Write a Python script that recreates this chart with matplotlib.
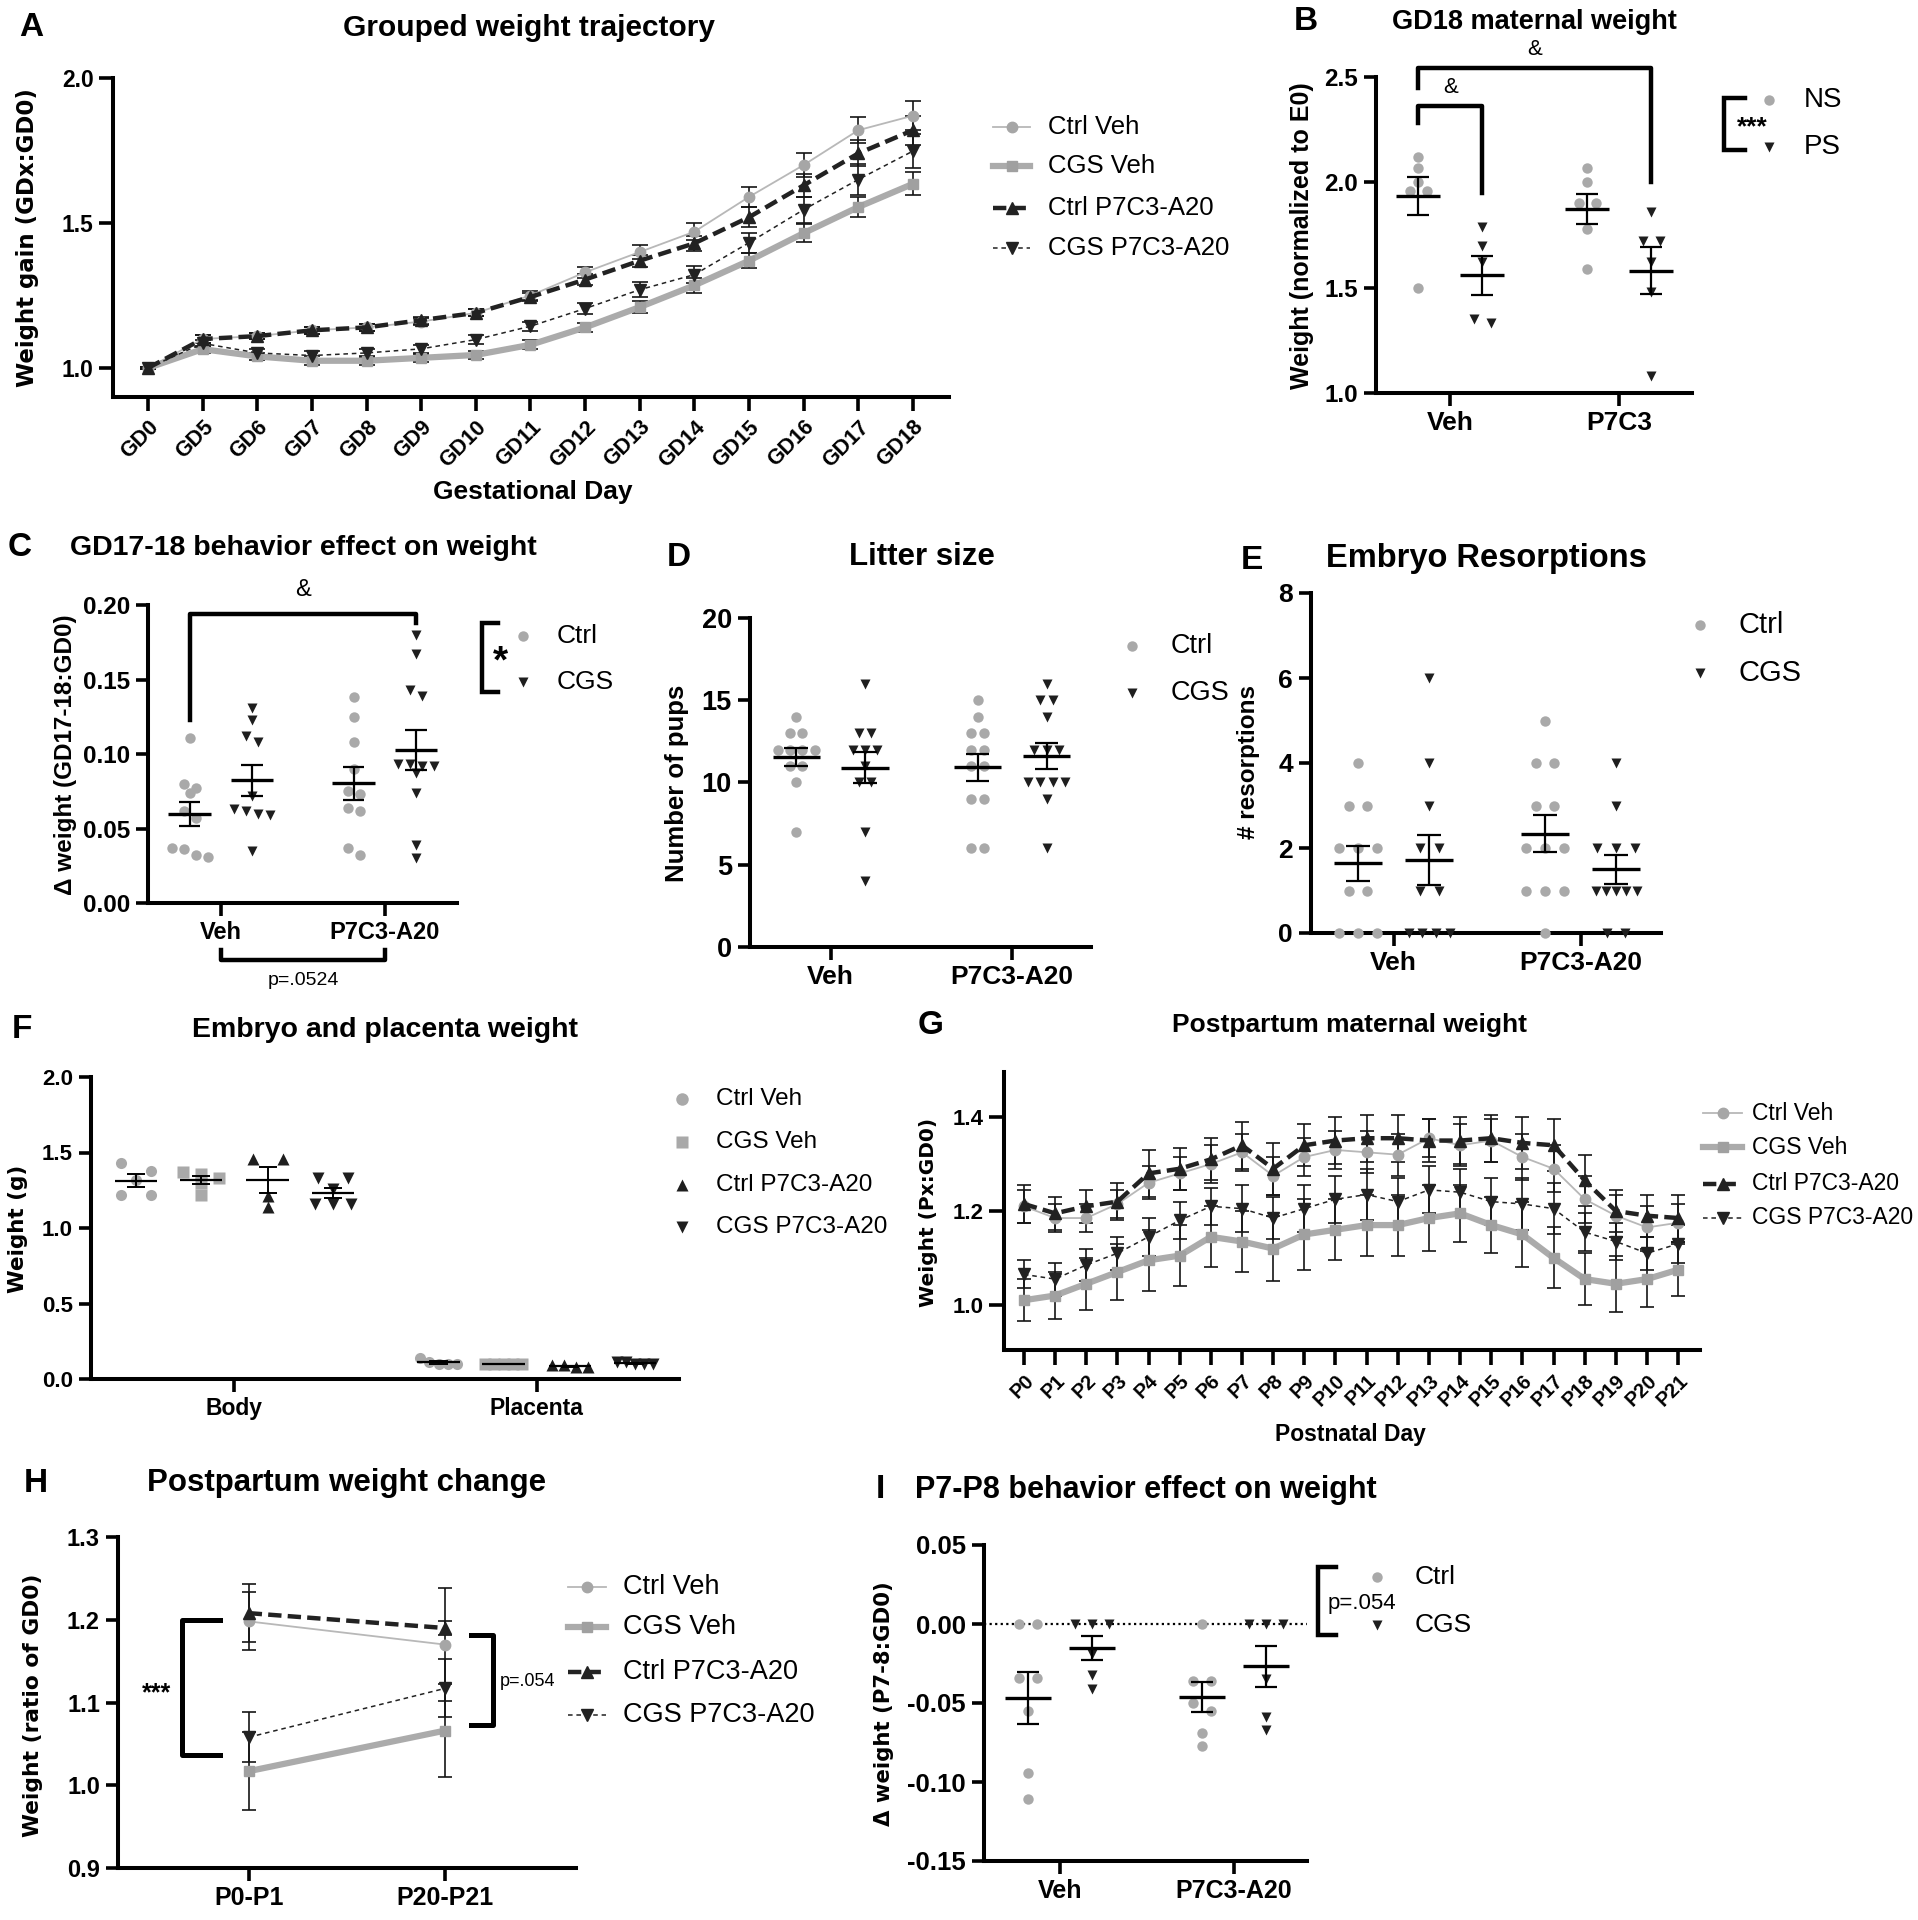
import numpy as np
import matplotlib
matplotlib.use("Agg")
import matplotlib.pyplot as plt
from matplotlib.lines import Line2D
from matplotlib.ticker import FormatStrFormatter

W, H = 1918, 1920
plt.rcParams['font.family'] = ['Liberation Sans', 'DejaVu Sans']
plt.rcParams['font.weight'] = 'bold'

GRAY = '#a9a9a9'
DARK = '#1e1e1e'

# ---------------- data ----------------
groups = ['Ctrl Veh', 'CGS Veh', 'Ctrl P7C3-A20', 'CGS P7C3-A20']

# A: grouped weight trajectory (GDx:GD0)
gd_days = ['GD0', 'GD5', 'GD6', 'GD7', 'GD8', 'GD9', 'GD10', 'GD11', 'GD12',
           'GD13', 'GD14', 'GD15', 'GD16', 'GD17', 'GD18']
a_ctrl_veh = [1.0, 1.10, 1.11, 1.13, 1.14, 1.16, 1.19, 1.25, 1.33, 1.40, 1.47, 1.59, 1.70, 1.82, 1.87]
a_cgs_veh = [1.0, 1.065, 1.04, 1.025, 1.025, 1.035, 1.045, 1.08, 1.14, 1.21, 1.285, 1.37, 1.465, 1.555, 1.635]
a_ctrl_p7 = [1.0, 1.10, 1.11, 1.13, 1.14, 1.165, 1.19, 1.245, 1.305, 1.37, 1.43, 1.52, 1.63, 1.74, 1.82]
a_cgs_p7 = [1.0, 1.085, 1.052, 1.043, 1.052, 1.066, 1.098, 1.144, 1.205, 1.27, 1.322, 1.432, 1.546, 1.65, 1.748]
a_sem_ctrl_veh = [0.005, 0.015, 0.01, 0.012, 0.012, 0.012, 0.012, 0.015, 0.02, 0.025, 0.03, 0.035, 0.04, 0.045, 0.05]
a_sem_cgs_veh = [0.005, 0.012, 0.012, 0.015, 0.015, 0.015, 0.015, 0.015, 0.015, 0.02, 0.025, 0.025, 0.03, 0.035, 0.04]
a_sem_ctrl_p7 = [0.005, 0.015, 0.01, 0.012, 0.012, 0.012, 0.012, 0.015, 0.02, 0.02, 0.025, 0.035, 0.04, 0.045, 0.05]
a_sem_cgs_p7 = [0.005, 0.012, 0.012, 0.015, 0.015, 0.015, 0.015, 0.015, 0.02, 0.025, 0.03, 0.035, 0.045, 0.055, 0.06]

# B: GD18 maternal weight
b_cats = ['Veh', 'P7C3']
b_ns_veh = [2.12, 2.07, 2.00, 1.96, 1.96, 1.50]
b_ps_veh = [1.79, 1.70, 1.62, 1.35, 1.33]
b_ns_p7 = [2.07, 2.00, 1.90, 1.90, 1.78, 1.59]
b_ps_p7 = [1.86, 1.72, 1.72, 1.62, 1.48, 1.08]

# C: GD17-18 behaviour effect
cat2 = ['Veh', 'P7C3-A20']
c_ctrl_veh = [0.111, 0.080, 0.077, 0.074, 0.062, 0.057, 0.037, 0.036, 0.032, 0.031]
c_cgs_veh = [0.131, 0.123, 0.112, 0.108, 0.072, 0.063, 0.062, 0.060, 0.059, 0.035]
c_ctrl_p7 = [0.138, 0.125, 0.108, 0.090, 0.075, 0.073, 0.064, 0.062, 0.037, 0.032]
c_cgs_p7 = [0.180, 0.167, 0.143, 0.139, 0.093, 0.093, 0.092, 0.092, 0.087, 0.074, 0.039, 0.030]

# D: litter size
d_ctrl_veh = [14, 13, 13, 12, 12, 12, 12, 11, 11, 10, 7]
d_cgs_veh = [16, 13, 13, 12, 12, 12, 11, 10, 10, 7, 4]
d_ctrl_p7 = [15, 14, 13, 13, 12, 12, 11, 11, 9, 9, 6, 6]
d_cgs_p7 = [16, 15, 15, 14, 12, 12, 12, 10, 10, 10, 10, 9, 6]

# E: embryo resorptions
e_ctrl_veh = [4, 3, 3, 2, 2, 2, 1, 1, 0, 0, 0]
e_cgs_veh = [6, 4, 3, 2, 2, 1, 1, 0, 0, 0, 0]
e_ctrl_p7 = [5, 4, 4, 3, 3, 2, 2, 2, 1, 1, 1, 0]
e_cgs_p7 = [4, 3, 2, 2, 2, 1, 1, 1, 1, 1, 0, 0]

# F: embryo and placenta weight (g)
f_cats = ['Body', 'Placenta']
f_body = {
    'Ctrl Veh': [1.43, 1.38, 1.32, 1.22, 1.22],
    'CGS Veh': [1.37, 1.36, 1.33, 1.30, 1.22],
    'Ctrl P7C3-A20': [1.46, 1.46, 1.21, 1.14],
    'CGS P7C3-A20': [1.33, 1.33, 1.26, 1.16, 1.16, 1.16],
}
f_placenta = {
    'Ctrl Veh': [0.14, 0.11, 0.10, 0.10, 0.10],
    'CGS Veh': [0.10, 0.10, 0.10, 0.10, 0.10],
    'Ctrl P7C3-A20': [0.09, 0.09, 0.08, 0.08],
    'CGS P7C3-A20': [0.11, 0.11, 0.10, 0.10, 0.10],
}

# G: postpartum maternal weight (Px:GD0)
p_days = ['P%d' % i for i in range(22)]
g_ctrl_veh = [1.21, 1.185, 1.185, 1.215, 1.26, 1.28, 1.30, 1.325, 1.275, 1.315, 1.33,
              1.325, 1.32, 1.355, 1.34, 1.35, 1.315, 1.29, 1.225, 1.19, 1.165, 1.175]
g_cgs_veh = [1.01, 1.02, 1.045, 1.07, 1.095, 1.105, 1.145, 1.135, 1.12, 1.15, 1.16,
             1.17, 1.17, 1.185, 1.195, 1.17, 1.15, 1.10, 1.055, 1.045, 1.055, 1.075]
g_ctrl_p7 = [1.215, 1.195, 1.21, 1.22, 1.28, 1.29, 1.31, 1.34, 1.29, 1.34, 1.35,
             1.355, 1.355, 1.35, 1.35, 1.355, 1.345, 1.34, 1.265, 1.20, 1.19, 1.185]
g_cgs_p7 = [1.065, 1.055, 1.085, 1.11, 1.145, 1.18, 1.21, 1.205, 1.185, 1.205, 1.225,
            1.235, 1.22, 1.245, 1.24, 1.22, 1.215, 1.205, 1.155, 1.135, 1.11, 1.13]
g_sem_ctrl_veh = [0.035, 0.03, 0.03, 0.03, 0.035, 0.035, 0.04, 0.04, 0.04, 0.04, 0.04,
                  0.045, 0.045, 0.04, 0.045, 0.045, 0.05, 0.05, 0.05, 0.045, 0.045, 0.04]
g_sem_cgs_veh = [0.045, 0.05, 0.055, 0.06, 0.065, 0.065, 0.065, 0.065, 0.07, 0.075, 0.065,
                 0.065, 0.065, 0.07, 0.06, 0.06, 0.07, 0.065, 0.055, 0.06, 0.06, 0.055]
g_sem_ctrl_p7 = [0.04, 0.035, 0.035, 0.04, 0.05, 0.045, 0.045, 0.05, 0.055, 0.045, 0.05,
                 0.05, 0.05, 0.045, 0.05, 0.05, 0.055, 0.055, 0.055, 0.045, 0.045, 0.05]
g_sem_cgs_p7 = [0.03, 0.035, 0.035, 0.035, 0.04, 0.04, 0.04, 0.05, 0.045, 0.05, 0.05,
                0.055, 0.05, 0.05, 0.05, 0.05, 0.055, 0.055, 0.04, 0.04, 0.035, 0.04]

# H: postpartum weight change
h_periods = ['P0-P1', 'P20-P21']
h_ctrl_veh = [1.198, 1.170]
h_cgs_veh = [1.017, 1.066]
h_ctrl_p7 = [1.208, 1.190]
h_cgs_p7 = [1.058, 1.117]
h_sem_ctrl_veh = [0.035, 0.068]
h_sem_cgs_veh = [0.047, 0.056]
h_sem_ctrl_p7 = [0.035, 0.008]
h_sem_cgs_p7 = [0.030, 0.035]

# I: P7-P8 behaviour effect
i_ctrl_veh = [0.0, 0.0, -0.034, -0.034, -0.055, -0.094, -0.111]
i_cgs_veh = [0.0, 0.0, 0.0, -0.019, -0.032, -0.041]
i_ctrl_p7 = [0.0, -0.036, -0.036, -0.050, -0.055, -0.069, -0.077]
i_cgs_p7 = [0.0, 0.0, 0.0, -0.035, -0.059, -0.067]

# ---------------- styling ----------------
line_style = {
    'Ctrl Veh': dict(color='#b8b8b8', lw=1.3, ls='-', marker='o', c='#a6a6a6', ms=7.5),
    'CGS Veh': dict(color='#ababab', lw=4.5, ls='-', marker='s', c='#a0a0a0', ms=7.5),
    'Ctrl P7C3-A20': dict(color='#222222', lw=3.2, ls=(0, (3, 1.4)), marker='^', c='#222222', ms=8),
    'CGS P7C3-A20': dict(color='#222222', lw=1.1, ls=(0, (3, 2.5)), marker='v', c='#222222', ms=8),
}
dot_style = {'Ctrl Veh': ('o', GRAY), 'CGS Veh': ('s', GRAY),
             'Ctrl P7C3-A20': ('^', DARK), 'CGS P7C3-A20': ('v', DARK)}

fig = plt.figure(figsize=(W / 100, H / 100), dpi=100)


def fx(x):
    return x / W


def fy(y):
    return 1 - y / H


def panel(x0, y0, x1, y1, ysize, xsize, tlen=9):
    ax = fig.add_axes([fx(x0), fy(y1), (x1 - x0) / W, (y1 - y0) / H])
    ax.spines[['top', 'right']].set_visible(False)
    for s in ('left', 'bottom'):
        ax.spines[s].set_linewidth(2.9)
    ax.tick_params(direction='out', length=tlen, width=2.6, pad=4)
    ax.tick_params(axis='y', labelsize=ysize)
    ax.tick_params(axis='x', labelsize=xsize)
    ax.patch.set_alpha(0)
    return ax


def label(x, y, s, size, **kw):
    fig.text(fx(x), fy(y), s, fontsize=size, ha=kw.pop('ha', 'center'),
             va=kw.pop('va', 'center'), **kw)


def swarm(vals, center, step, thr, maxw):
    v = np.asarray(vals, float)
    order = np.argsort(-v, kind='stable')
    rows = []
    for i in order:
        if rows and v[rows[-1][0]] - v[i] <= thr:
            rows[-1].append(i)
        else:
            rows.append([i])
    xs = np.zeros(len(v))
    for r in rows:
        n = len(r)
        st = step if (n - 1) * step <= maxw else maxw / (n - 1)
        for k, i in enumerate(r):
            xs[i] = center + (k - (n - 1) / 2) * st
    return xs, v


def dots(ax, vals, center, marker, color, step, thr, maxw=0.22, ms=7.5,
         mhw=0.13, chw=0.065, mlw=2.4, elw=1.6):
    xs, ys = swarm(vals, center, step, thr, maxw)
    ax.plot(xs, ys, ls='none', marker=marker, ms=ms, color=color, mec='none',
            clip_on=False, zorder=3)
    m = ys.mean()
    se = ys.std(ddof=1) / np.sqrt(len(ys))
    ax.hlines(m, center - mhw, center + mhw, color='black', lw=mlw, zorder=4)
    ax.vlines(center, m - se, m + se, color='black', lw=elw, zorder=4)
    ax.hlines([m - se, m + se], center - chw, center + chw, color='black', lw=elw, zorder=4)


def traj(ax, series, sems, capsize=5):
    for g in groups:
        st = line_style[g]
        y = series[g]
        ax.errorbar(np.arange(len(y)), y, yerr=sems[g], color=st['color'], lw=st['lw'],
                    ls=st['ls'], marker=st['marker'], ms=st['ms'], mfc=st['c'], mec=st['c'],
                    ecolor='#151515', elinewidth=1.2, capsize=capsize, capthick=1.2,
                    clip_on=False, zorder=3)


def line_legend(x0, x1, xt, ys, fs):
    for g, y in zip(groups, ys):
        st = line_style[g]
        fig.add_artist(Line2D([fx(x0), fx(x1)], [fy(y)] * 2, transform=fig.transFigure,
                              color=st['color'], lw=st['lw'], ls=st['ls']))
        fig.add_artist(Line2D([fx((x0 + x1) / 2)], [fy(y)], transform=fig.transFigure,
                              ls='none', marker=st['marker'], ms=st['ms'],
                              mfc=st['c'], mec=st['c']))
        label(xt, y, g, fs, ha='left', fontweight='normal')


def marker_legend(xm, xt, ys, names, markers, colors, fs, ms=7.5):
    for y, n, mk, c in zip(ys, names, markers, colors):
        fig.add_artist(Line2D([fx(xm)], [fy(y)], transform=fig.transFigure, ls='none',
                              marker=mk, ms=ms, mfc=c, mec='none'))
        label(xt, y, n, fs, ha='left', fontweight='normal')


def bracket_v(x, y0, y1, arm):
    # vertical bracket in figure pixels, arms pointing right
    fig.add_artist(Line2D([fx(x + arm), fx(x), fx(x), fx(x + arm)],
                          [fy(y0), fy(y0), fy(y1), fy(y1)], transform=fig.transFigure,
                          color='black', lw=3.2, solid_joinstyle='miter'))


# ---------------- A ----------------
ax = panel(113, 78, 949, 397, 16.5, 15.5, tlen=10)
traj(ax, {'Ctrl Veh': a_ctrl_veh, 'CGS Veh': a_cgs_veh,
          'Ctrl P7C3-A20': a_ctrl_p7, 'CGS P7C3-A20': a_cgs_p7},
     {'Ctrl Veh': a_sem_ctrl_veh, 'CGS Veh': a_sem_cgs_veh,
      'Ctrl P7C3-A20': a_sem_ctrl_p7, 'CGS P7C3-A20': a_sem_cgs_p7}, capsize=6)
ax.set_ylim(0.9, 2.0)
ax.set_xlim(-0.64, 14.66)
ax.set_yticks([1.0, 1.5, 2.0])
ax.yaxis.set_major_formatter(FormatStrFormatter('%.1f'))
ax.set_xticks(range(len(gd_days)))
ax.set_xticklabels(gd_days, rotation=45, ha='right', rotation_mode='anchor')
label(31, 28, 'A', 24)
label(529, 28, 'Grouped weight trajectory', 21.5)
label(28, 238, 'Weight gain (GDx:GD0)', 16.5, rotation=90, family='DejaVu Sans')
label(533, 492, 'Gestational Day', 19)
line_legend(993, 1030, 1048, [127, 166, 208, 248], 18.5)

# ---------------- B ----------------
ax = panel(1376, 77, 1692, 393, 17.5, 19)
for k, (ns, ps) in enumerate([(b_ns_veh, b_ps_veh), (b_ns_p7, b_ps_p7)]):
    dots(ax, ns, k - 0.19, 'o', GRAY, 0.1, 0.038)
    dots(ax, ps, k + 0.19, 'v', DARK, 0.1, 0.038)
ax.set_ylim(1.0, 2.5)
ax.set_xlim(-0.44, 1.43)
ax.set_yticks([1.0, 1.5, 2.0, 2.5])
ax.yaxis.set_major_formatter(FormatStrFormatter('%.1f'))
ax.set_xticks([0, 1])
ax.set_xticklabels(b_cats)
ax.plot([-0.19, -0.19, 1.19, 1.19], [2.448, 2.543, 2.543, 2.0], color='black', lw=3.2,
        clip_on=False)
ax.plot([-0.19, -0.19, 0.19, 0.19], [2.28, 2.362, 2.362, 1.95], color='black', lw=3.2,
        clip_on=False)
ax.text(0.5, 2.63, '&', ha='center', va='center', fontsize=16, fontweight='normal')
ax.text(0.0, 2.45, '&', ha='center', va='center', fontsize=16, fontweight='normal')
label(1306, 22, 'B', 24)
label(1534, 22, 'GD18 maternal weight', 19.5)
label(1302, 236, 'Weight (normalized to E0)', 18, rotation=90)
bracket_v(1724, 98, 150, 21)
label(1752, 127, '***', 19)
marker_legend(1769, 1804, [100, 147], ['NS', 'PS'], ['o', 'v'], [GRAY, DARK], 20)

# ---------------- C ----------------
ax = panel(148, 605, 457, 903, 17.5, 17)
for k, (ct, cg) in enumerate([(c_ctrl_veh, c_cgs_veh), (c_ctrl_p7, c_cgs_p7)]):
    dots(ax, ct, k - 0.19, 'o', GRAY, 0.075, 0.006)
    dots(ax, cg, k + 0.19, 'v', DARK, 0.075, 0.006)
ax.set_ylim(0, 0.2)
ax.set_xlim(-0.445, 1.44)
ax.set_yticks([0, 0.05, 0.10, 0.15, 0.20])
ax.yaxis.set_major_formatter(FormatStrFormatter('%.2f'))
ax.set_xticks([0, 1])
ax.set_xticklabels(cat2)
ax.plot([-0.19, -0.19, 1.19, 1.19], [0.123, 0.194, 0.194, 0.188], color='black', lw=3.2,
        clip_on=False)
ax.text(0.5, 0.21, '&', ha='center', va='center', fontsize=17, fontweight='normal')
ax.plot([0, 0, 1, 1], [-0.0315, -0.038, -0.038, -0.0315], color='black', lw=3.2,
        clip_on=False)
ax.text(0.5, -0.052, 'p=.0524', ha='center', va='center', fontsize=14, fontweight='normal')
label(20, 548, 'C', 24)
label(303, 548, 'GD17-18 behavior effect on weight', 20.5)
label(66, 755, 'Δ weight (GD17-18:GD0)', 17.5, rotation=90)
bracket_v(482, 623, 692, 16)
label(500, 662, '*', 28)
marker_legend(523, 557, [636, 682], ['Ctrl', 'CGS'], ['o', 'v'], [GRAY, DARK], 19)

# ---------------- D ----------------
ax = panel(750, 618, 1091, 947, 19.5, 19)
for k, (ct, cg) in enumerate([(d_ctrl_veh, d_cgs_veh), (d_ctrl_p7, d_cgs_p7)]):
    dots(ax, ct, k - 0.19, 'o', GRAY, 0.068, 0.5)
    dots(ax, cg, k + 0.19, 'v', DARK, 0.068, 0.5)
ax.set_ylim(0, 20)
ax.set_xlim(-0.444, 1.435)
ax.set_yticks([0, 5, 10, 15, 20])
ax.set_xticks([0, 1])
ax.set_xticklabels(cat2)
label(679, 557, 'D', 24)
label(922, 557, 'Litter size', 22.5)
label(677, 783, 'Number of pups', 18.5, rotation=90)
marker_legend(1132, 1171, [646, 693], ['Ctrl', 'CGS'], ['o', 'v'], [GRAY, DARK], 19.5)

# ---------------- E ----------------
ax = panel(1311, 593, 1661, 933, 19, 19)
for k, (ct, cg) in enumerate([(e_ctrl_veh, e_cgs_veh), (e_ctrl_p7, e_cgs_p7)]):
    dots(ax, ct, k - 0.19, 'o', GRAY, 0.1, 0.3)
    dots(ax, cg, k + 0.19, 'v', DARK, 0.1, 0.3)
ax.set_ylim(0, 8)
ax.set_xlim(-0.442, 1.43)
ax.set_yticks([0, 2, 4, 6, 8])
ax.set_xticks([0, 1])
ax.set_xticklabels(cat2)
label(1252, 560, 'E', 24)
label(1486, 559, 'Embryo Resorptions', 23.5)
label(1249, 762, '# resorptions', 17.5, rotation=90)
marker_legend(1700, 1739, [625, 673], ['Ctrl', 'CGS'], ['o', 'v'], [GRAY, DARK], 21)

# ---------------- F ----------------
ax = panel(91, 1077, 679, 1379, 16, 16.5)
f_offsets = [-0.325, -0.11, 0.11, 0.325]
for k, part in enumerate([f_body, f_placenta]):
    for g, off in zip(groups, f_offsets):
        mk, col = dot_style[g]
        dots(ax, part[g], k + off, mk, col, 0.1, 0.053, maxw=0.12, ms=8,
             mhw=0.07, chw=0.03, mlw=1.6, elw=1.4)
ax.set_ylim(0, 2.0)
ax.set_xlim(-0.474, 1.47)
ax.set_yticks([0, 0.5, 1.0, 1.5, 2.0])
ax.yaxis.set_major_formatter(FormatStrFormatter('%.1f'))
ax.set_xticks([0, 1])
ax.set_xticklabels(f_cats)
label(22, 1030, 'F', 24)
label(385, 1030, 'Embryo and placenta weight', 20.5)
label(18, 1229, 'Weight (g)', 15.5, rotation=90, family='DejaVu Sans')
marker_legend(682, 716, [1099, 1142, 1185, 1227], groups,
              [dot_style[g][0] for g in groups], [dot_style[g][1] for g in groups], 17.5, ms=9)

# ---------------- G ----------------
ax = panel(1004, 1072, 1700, 1350, 16, 14.5, tlen=11)
traj(ax, {'Ctrl Veh': g_ctrl_veh, 'CGS Veh': g_cgs_veh,
          'Ctrl P7C3-A20': g_ctrl_p7, 'CGS P7C3-A20': g_cgs_p7},
     {'Ctrl Veh': g_sem_ctrl_veh, 'CGS Veh': g_sem_cgs_veh,
      'Ctrl P7C3-A20': g_sem_ctrl_p7, 'CGS P7C3-A20': g_sem_cgs_p7}, capsize=5)
ax.set_ylim(0.904, 1.496)
ax.set_xlim(-0.64, 21.7)
ax.set_yticks([1.0, 1.2, 1.4])
ax.yaxis.set_major_formatter(FormatStrFormatter('%.1f'))
ax.set_xticks(range(len(p_days)))
ax.set_xticklabels(p_days, rotation=45, ha='right', rotation_mode='anchor')
label(931, 1025, 'G', 24)
label(1350, 1025, 'Postpartum maternal weight', 19)
label(929, 1212, 'Weight (Px:GD0)', 14.5, rotation=90, family='DejaVu Sans')
label(1350, 1435, 'Postnatal Day', 16.5)
line_legend(1703, 1742, 1752, [1113, 1147, 1184, 1218], 16.5)

# ---------------- H ----------------
ax = panel(118, 1537, 576, 1868, 17, 18)
traj(ax, {'Ctrl Veh': h_ctrl_veh, 'CGS Veh': h_cgs_veh,
          'Ctrl P7C3-A20': h_ctrl_p7, 'CGS P7C3-A20': h_cgs_p7},
     {'Ctrl Veh': h_sem_ctrl_veh, 'CGS Veh': h_sem_cgs_veh,
      'Ctrl P7C3-A20': h_sem_ctrl_p7, 'CGS P7C3-A20': h_sem_cgs_p7}, capsize=5)
ax.set_ylim(0.9, 1.3)
ax.set_xlim(-0.666, 1.668)
ax.set_yticks([0.9, 1.0, 1.1, 1.2, 1.3])
ax.yaxis.set_major_formatter(FormatStrFormatter('%.1f'))
ax.set_xticks([0, 1])
ax.set_xticklabels(h_periods)
ax.plot([-0.148, -0.342, -0.342, -0.148], [1.2, 1.2, 1.037, 1.037], color='black', lw=3.6,
        clip_on=False)
ax.plot([1.133, 1.245, 1.245, 1.133], [1.181, 1.181, 1.073, 1.073], color='black', lw=3.6,
        clip_on=False)
ax.text(-0.47, 1.111, '***', ha='center', va='center', fontsize=18)
ax.text(1.28, 1.125, 'p=.054', ha='left', va='center', fontsize=13, fontweight='normal')
label(36, 1483, 'H', 24)
label(347, 1483, 'Postpartum weight change', 22.5)
label(33, 1705, 'Weight (ratio of GD0)', 15.7, rotation=90, family='DejaVu Sans')
line_legend(568, 606, 623, [1587, 1627, 1672, 1715], 19.5)

# ---------------- I ----------------
ax = panel(984, 1545, 1307, 1861, 18.5, 18)
ax.axhline(0, color='black', lw=1.6, ls=(0, (1, 1.5)), zorder=1)
for k, (ct, cg) in enumerate([(i_ctrl_veh, i_cgs_veh), (i_ctrl_p7, i_cgs_p7)]):
    dots(ax, ct, k - 0.184, 'o', GRAY, 0.1, 0.005)
    dots(ax, cg, k + 0.184, 'v', DARK, 0.1, 0.005)
ax.set_ylim(-0.15, 0.05)
ax.set_xlim(-0.437, 1.42)
ax.set_yticks([-0.15, -0.10, -0.05, 0.0, 0.05])
ax.yaxis.set_major_formatter(FormatStrFormatter('%.2f'))
ax.set_xticks([0, 1])
ax.set_xticklabels(cat2)
label(880, 1490, 'I', 24)
label(1146, 1490, 'P7-P8 behavior effect on weight', 22)
label(884, 1704, 'Δ weight (P7-8:GD0)', 15.3, rotation=90, family='DejaVu Sans')
bracket_v(1318, 1567, 1635, 18)
label(1362, 1603, 'p=.054', 16, fontweight='normal')
marker_legend(1377, 1415, [1577, 1625], ['Ctrl', 'CGS'], ['o', 'v'], [GRAY, DARK], 19)

fig.savefig('out.png', dpi=100, facecolor='white')
